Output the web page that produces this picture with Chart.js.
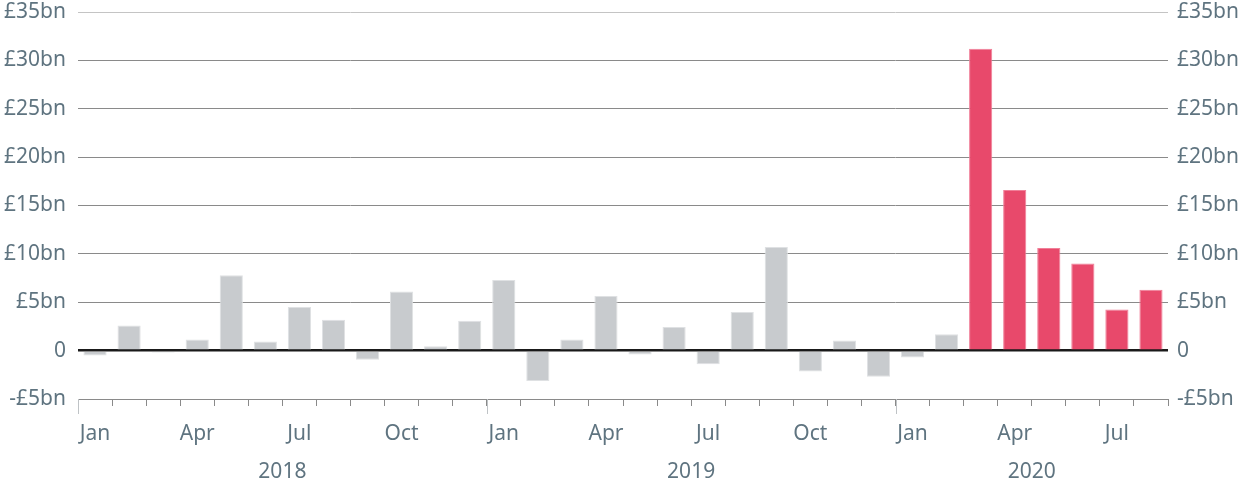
<!DOCTYPE html>
<html>
<head>
<meta charset="utf-8">
<script src="https://cdn.jsdelivr.net/npm/chart.js@4/dist/chart.umd.min.js"></script>
<style>
  html, body { margin: 0; padding: 0; background: #fff; }
  #wrap { width: 1242px; height: 484px; }
</style>
</head>
<body>
<div id="wrap"><canvas id="chart" width="1242" height="484"></canvas></div>
<script>
// monthly values, £bn, Jan 2018 - Aug 2020
const months = ["Jan","Feb","Mar","Apr","May","Jun","Jul","Aug","Sep","Oct","Nov","Dec"];
const years = ["2018", "2019", "2020"];
const monthsPerYear = [12, 12, 8];
const values = [
  -0.5, 2.6, -0.2, 1.15, 7.8, 0.95, 4.5, 3.2, -0.95, 6.1, 0.45, 3.1,
  7.3, -3.15, 1.15, 5.65, -0.4, 2.45, -1.4, 4.0, 10.7, -2.15, 1.05, -2.7,
  -0.7, 1.7, 31.2, 16.6, 10.6, 9.0, 4.25, 6.3
];
const highlightFrom = 26; // Mar 2020 onwards in red
const yTicks = [-5, 0, 5, 10, 15, 20, 25, 30, 35];

const labels = [];
years.forEach((y, i) => {
  for (let m = 0; m < monthsPerYear[i]; m++) labels.push(months[m] + " " + y);
});

const textColor = "#5f7480";
const font = { family: "'Noto Sans', 'Open Sans', sans-serif", size: 21 };

function moneyLabel(v) {
  if (v === 0) return "0";
  return (v < 0 ? "-£" : "£") + Math.abs(v) + "bn";
}

// pin the plot area: 12px above the top gridline
function fitY(width) {
  return (s) => {
    s.width = width;
    s.paddingTop = 12;
    s.paddingBottom = 0;
  };
}

const yearPlugin = {
  id: "yearPlugin",
  afterDraw(chart) {
    const x = chart.scales.x;
    const ctx = chart.ctx;
    const step = (x.right - x.left) / labels.length;
    ctx.save();
    ctx.strokeStyle = "#bfc3c6";
    ctx.lineWidth = 1;
    ctx.fillStyle = textColor;
    ctx.font = font.size + "px " + font.family;
    ctx.textAlign = "center";
    ctx.textBaseline = "middle";
    let start = 0;
    years.forEach((y, i) => {
      const bx = Math.round(x.left + start * step) + 0.5;
      ctx.beginPath();
      ctx.moveTo(bx, x.top);
      ctx.lineTo(bx, x.top + 15);
      ctx.stroke();
      const end = start + monthsPerYear[i] - 1;
      const cx = (x.getPixelForValue(start) + x.getPixelForValue(end)) / 2;
      ctx.fillText(y, cx, 472);
      start += monthsPerYear[i];
    });
    ctx.restore();
  }
};

new Chart(document.getElementById("chart"), {
  type: "bar",
  data: {
    labels: labels,
    datasets: [{
      data: values,
      backgroundColor: values.map((v, i) => i >= highlightFrom ? "#e8496b" : "#c8cbce"),
      borderColor: values.map((v, i) => i >= highlightFrom ? "#f07f98" : "#dfe1e3"),
      borderWidth: 1,
      categoryPercentage: 1,
      barPercentage: 0.68
    }]
  },
  options: {
    responsive: false,
    animation: false,
    layout: { padding: 0 },
    plugins: { legend: { display: false }, tooltip: { enabled: false } },
    scales: {
      x: {
        grid: {
          offset: true,
          drawOnChartArea: false,
          tickLength: 7,
          color: "#8a8a8a"
        },
        border: { color: "#8a8a8a", width: 1 },
        ticks: {
          autoSkip: false,
          maxRotation: 0,
          padding: 15,
          color: textColor,
          font: font,
          callback: (v, i) => i % 3 === 0 ? months[i % 12] : ""
        },
        afterFit: (s) => { s.height = 85; }
      },
      y: {
        position: "left",
        min: -5,
        max: 35,
        afterBuildTicks: (s) => { s.ticks = yTicks.map(v => ({ value: v })); },
        grid: {
          drawTicks: false,
          color: (c) => c.tick.value === 0 ? "#1a1a1a" : (c.tick.value === 35 ? "#c4c4c4" : "#8a8a8a"),
          lineWidth: (c) => c.tick.value === 0 ? 2.5 : 1
        },
        border: { display: false },
        ticks: { color: textColor, font: font, padding: 12, callback: moneyLabel },
        afterFit: fitY(78)
      },
      y2: {
        position: "right",
        min: -5,
        max: 35,
        afterBuildTicks: (s) => { s.ticks = yTicks.map(v => ({ value: v })); },
        grid: { display: false, drawTicks: false },
        border: { display: false },
        ticks: { color: textColor, font: font, padding: 9, callback: moneyLabel },
        afterFit: fitY(74)
      }
    }
  },
  plugins: [yearPlugin]
});
</script>
</body>
</html>
